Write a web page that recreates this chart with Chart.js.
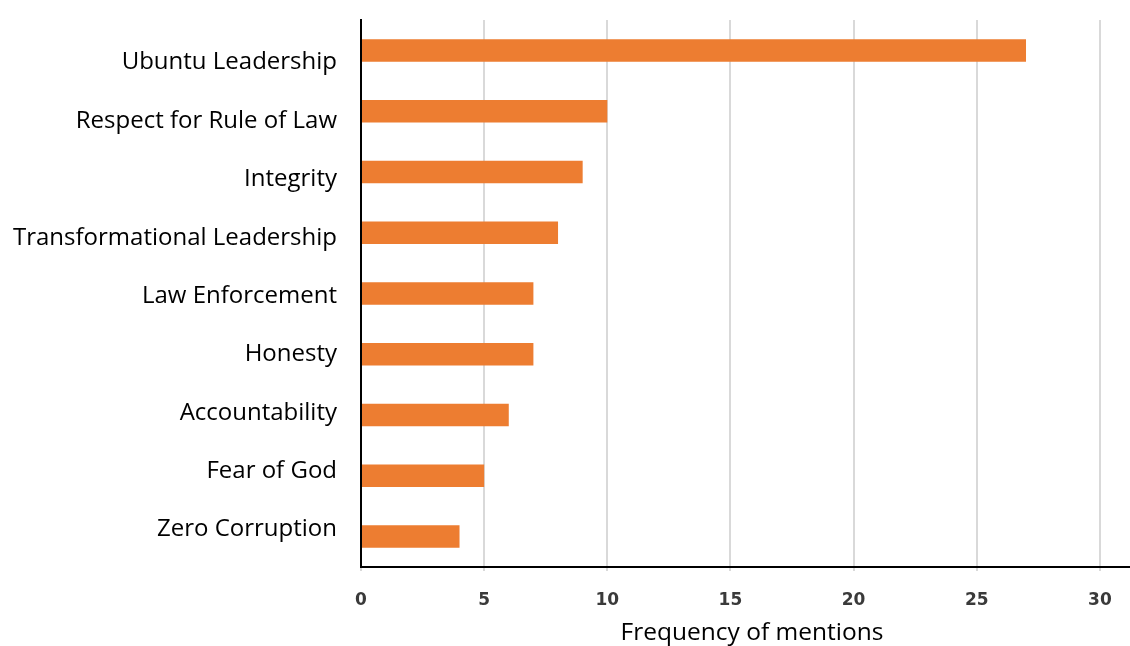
<!DOCTYPE html>
<html>
<head>
<meta charset="utf-8">
<script src="https://cdn.jsdelivr.net/npm/chart.js@4/dist/chart.umd.min.js"></script>
<style>
  html, body { margin: 0; padding: 0; background: #fff; overflow: hidden; }
  #wrap { width: 1143px; height: 646px; }
</style>
</head>
<body>
<div id="wrap"><canvas id="barChart"></canvas></div>
<script>
const categories = [
  "Ubuntu Leadership",
  "Respect for Rule of Law",
  "Integrity",
  "Transformational Leadership",
  "Law Enforcement",
  "Honesty",
  "Accountability",
  "Fear of God",
  "Zero Corruption"
];
const mentions = [27, 10, 9, 8, 7, 7, 6, 5, 4];
const xTicks = [0, 5, 10, 15, 20, 25, 30];

// label axis range: the labels sit a little tighter than the bars
const labelMin = -0.21;
const labelMax = 8.12;

new Chart(document.getElementById('barChart'), {
  type: 'bar',
  data: {
    labels: categories,
    datasets: [{
      label: 'Frequency of mentions',
      data: mentions,
      backgroundColor: '#ed7d31',
      categoryPercentage: 1.0,
      barPercentage: 0.37
    }]
  },
  options: {
    indexAxis: 'y',
    responsive: true,
    maintainAspectRatio: false,
    animation: false,
    layout: { padding: { top: 20, right: 0, bottom: 0, left: 0 } },
    plugins: { legend: { display: false }, tooltip: { enabled: false } },
    scales: {
      x: {
        min: 0,
        max: 31.75,
        // only the multiples of 5, the axis runs a bit past 30
        afterBuildTicks: (axis) => {
          axis.ticks = xTicks.map(v => ({ value: v }));
        },
        afterFit: (axis) => { axis.height = 79; },
        grid: { color: '#d9d9d9', lineWidth: 2, tickLength: 4, drawTicks: true },
        border: { display: true, color: '#000', width: 2 },
        ticks: {
          padding: 19,
          color: '#3a3a3a',
          font: { family: 'DejaVu Sans', size: 17, weight: 'bold' }
        },
        title: {
          display: true,
          text: 'Frequency of mentions',
          color: '#000',
          font: { family: 'Open Sans', size: 24.5, lineHeight: 1.1 },
          padding: { top: 8, bottom: 0 }
        }
      },
      y: {
        weight: 0,
        afterFit: (axis) => {
          axis.width = 0;
          axis.paddingTop = 0;
          axis.paddingBottom = 0;
        },
        grid: { display: false },
        border: { display: true, color: '#000', width: 2 },
        ticks: { display: false }
      },
      yl: {
        type: 'linear',
        position: 'left',
        weight: 1,
        reverse: true,
        bounds: 'data',
        min: labelMin,
        max: labelMax,
        afterBuildTicks: (axis) => {
          axis.min = labelMin;
          axis.max = labelMax;
          axis.ticks = categories.map((c, i) => ({ value: i }));
        },
        afterFit: (axis) => {
          axis.width = 361;
          axis.paddingTop = 0;
          axis.paddingBottom = 0;
        },
        grid: { display: false, drawTicks: false },
        border: { display: false },
        ticks: {
          padding: 24,
          autoSkip: false,
          color: '#000',
          font: { family: 'Open Sans', size: 24 },
          callback: (v) => categories[v]
        }
      }
    }
  }
});
</script>
</body>
</html>
